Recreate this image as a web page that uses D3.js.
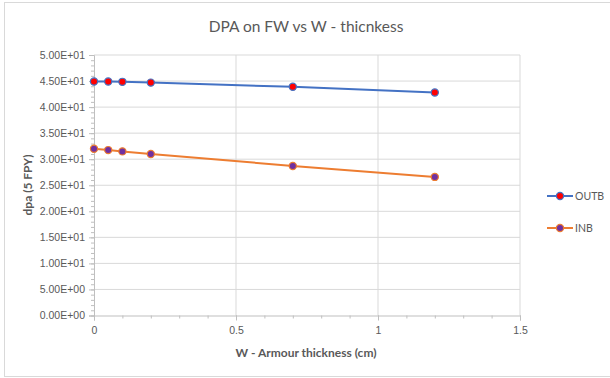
<!DOCTYPE html>
<html>
<head>
<meta charset="utf-8">
<script src="https://cdn.jsdelivr.net/npm/d3@7"></script>
<style>
  body { margin: 0; background: #fff; }
  svg { display: block; font-family: Lato, "Open Sans", sans-serif; }
  .tick text { fill: #595959; font-size: 10.5px; }
</style>
</head>
<body>
<svg width="610" height="378"></svg>
<script>
var thickness = [0, 0.05, 0.1, 0.2, 0.7, 1.2];
var outbValues = [44.9, 44.9, 44.85, 44.7, 43.9, 42.8];
var inbValues = [32.0, 31.75, 31.5, 31.0, 28.7, 26.6];
var seriesNames = ["OUTB", "INB"];
var xTicks = [0, 0.5, 1, 1.5];
var yTicks = [0, 5, 10, 15, 20, 25, 30, 35, 40, 45, 50];

var svg = d3.select("svg");

// chart frame
svg.append("rect")
  .attr("x", 4.5).attr("y", 2.5)
  .attr("width", 620).attr("height", 374)
  .attr("fill", "#fff")
  .attr("stroke", "#d9d9d9");

var x = d3.scaleLinear().domain([0, 1.5]).range([94, 520]);
var y = d3.scaleLinear().domain([0, 50]).range([315.5, 55]);

// gridlines
svg.append("g").selectAll("line.hgrid")
  .data(yTicks.slice(1))
  .enter().append("line")
  .attr("x1", x(0)).attr("x2", x(1.5))
  .attr("y1", function(d) { return y(d); })
  .attr("y2", function(d) { return y(d); })
  .attr("stroke", "#d9d9d9");

svg.append("g").selectAll("line.vgrid")
  .data(xTicks.slice(1))
  .enter().append("line")
  .attr("y1", y(0)).attr("y2", y(50))
  .attr("x1", function(d) { return x(d); })
  .attr("x2", function(d) { return x(d); })
  .attr("stroke", "#d9d9d9");

// minor ticks
svg.append("g")
  .attr("transform", "translate(" + x(0) + ",0)")
  .call(d3.axisLeft(y).ticks(50).tickSize(3).tickFormat(""))
  .call(function(g) {
    g.select(".domain").remove();
    g.selectAll("line").attr("stroke", "#bfbfbf");
  });

svg.append("g")
  .attr("transform", "translate(0," + y(0) + ")")
  .call(d3.axisBottom(x).ticks(15).tickSize(3).tickFormat(""))
  .call(function(g) {
    g.select(".domain").remove();
    g.selectAll("line").attr("stroke", "#bfbfbf");
  });

// major axes
svg.append("g")
  .attr("transform", "translate(" + x(0) + ",0)")
  .call(d3.axisLeft(y).tickValues(yTicks).tickSize(5).tickPadding(4)
    .tickFormat(function(d) {
      return d.toExponential(2).replace("e+", "E+0").toUpperCase();
    }))
  .call(function(g) {
    g.select(".domain").attr("stroke", "#bfbfbf");
    g.selectAll(".tick line").attr("stroke", "#bfbfbf");
  });

svg.append("g")
  .attr("transform", "translate(0," + y(0) + ")")
  .call(d3.axisBottom(x).tickValues(xTicks).tickSize(5).tickPadding(6)
    .tickFormat(function(d) { return d; }))
  .call(function(g) {
    g.select(".domain").attr("stroke", "#bfbfbf");
    g.selectAll(".tick line").attr("stroke", "#bfbfbf");
  });

// series
var series = [
  { name: seriesNames[0], values: outbValues, line: "#4472C4", fill: "#ff0000" },
  { name: seriesNames[1], values: inbValues, line: "#ED7D31", fill: "#7030A0" }
];

var lineGen = d3.line()
  .x(function(d) { return x(d[0]); })
  .y(function(d) { return y(d[1]); });

series.forEach(function(s) {
  var pts = thickness.map(function(t, i) { return [t, s.values[i]]; });
  svg.append("path")
    .datum(pts)
    .attr("d", lineGen)
    .attr("fill", "none")
    .attr("stroke", s.line)
    .attr("stroke-width", 2);
  svg.append("g").selectAll("circle")
    .data(pts)
    .enter().append("circle")
    .attr("cx", function(d) { return x(d[0]); })
    .attr("cy", function(d) { return y(d[1]); })
    .attr("r", 3.6)
    .attr("fill", s.fill)
    .attr("stroke", s.line)
    .attr("stroke-width", 1.2);
});

// legend
series.forEach(function(s, i) {
  var ly = 196 + i * 32;
  svg.append("line")
    .attr("x1", 547).attr("x2", 573)
    .attr("y1", ly).attr("y2", ly)
    .attr("stroke", s.line).attr("stroke-width", 2);
  svg.append("circle")
    .attr("cx", 560).attr("cy", ly).attr("r", 3.6)
    .attr("fill", s.fill).attr("stroke", s.line).attr("stroke-width", 1.2);
  svg.append("text")
    .attr("x", 575).attr("y", ly + 4)
    .attr("fill", "#595959")
    .attr("font-size", 10.5)
    .text(s.name);
});

// titles
svg.append("text")
  .attr("x", 306).attr("y", 32)
  .attr("text-anchor", "middle")
  .attr("fill", "#595959")
  .attr("font-size", 15.5)
  .text("DPA on FW vs W - thicnkess");

svg.append("text")
  .attr("x", 306).attr("y", 357)
  .attr("text-anchor", "middle")
  .attr("fill", "#595959")
  .attr("font-size", 12)
  .attr("font-weight", "bold")
  .text("W - Armour thickness (cm)");

svg.append("text")
  .attr("transform", "translate(32,185) rotate(-90)")
  .attr("text-anchor", "middle")
  .attr("fill", "#595959")
  .attr("font-size", 12)
  .attr("font-weight", "bold")
  .text("dpa (5 FPY)");
</script>
</body>
</html>
